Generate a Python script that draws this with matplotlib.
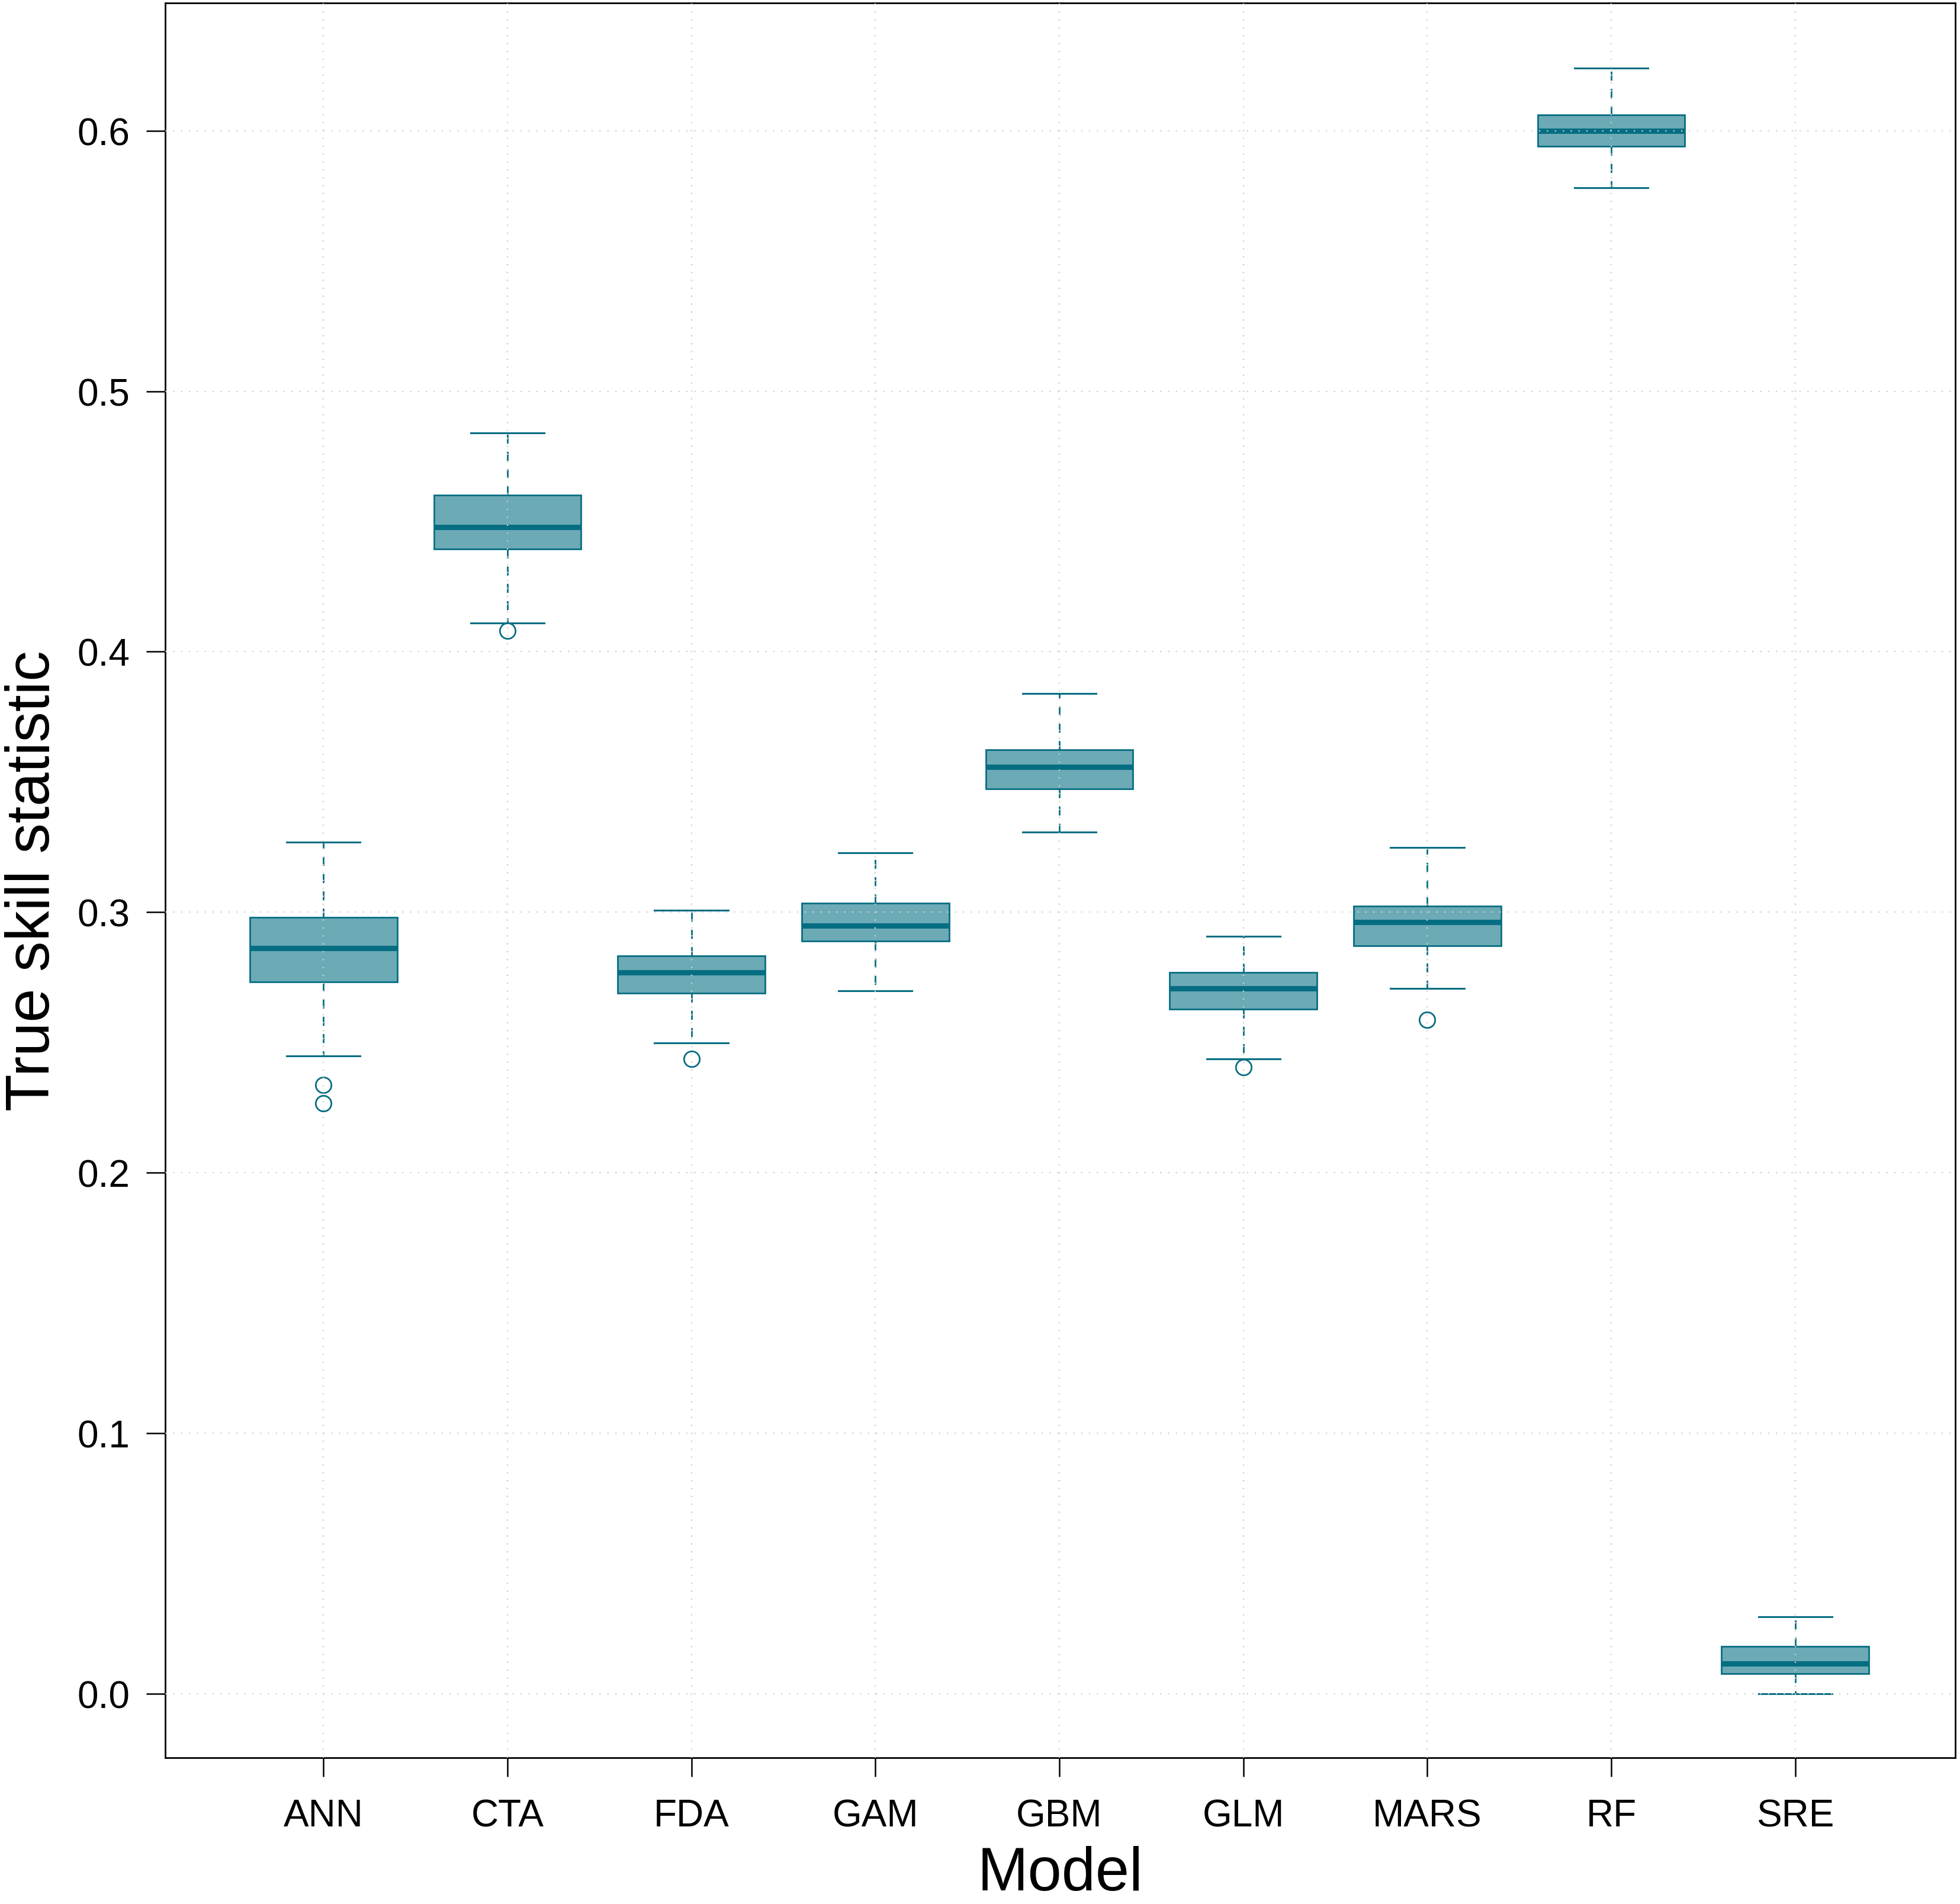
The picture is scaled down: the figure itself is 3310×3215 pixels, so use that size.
import matplotlib
matplotlib.use("Agg")
import matplotlib.pyplot as plt

plt.rcParams['font.family'] = ['Liberation Sans', 'DejaVu Sans']

models = ["ANN", "CTA", "FDA", "GAM", "GBM", "GLM", "MARS", "RF", "SRE"]
whisker_low = [0.2447, 0.4109, 0.2498, 0.2698, 0.3308, 0.2437, 0.2708, 0.5781, 0.0]
q1 = [0.2732, 0.4393, 0.2688, 0.2888, 0.3473, 0.2627, 0.2872, 0.5939, 0.0076]
median = [0.2862, 0.4479, 0.2769, 0.2949, 0.3558, 0.2707, 0.2962, 0.6000, 0.0115]
q3 = [0.2979, 0.4600, 0.2833, 0.3034, 0.3624, 0.2769, 0.3023, 0.6060, 0.0182]
whisker_high = [0.3268, 0.4839, 0.3008, 0.3228, 0.3839, 0.2908, 0.3248, 0.6241, 0.0296]
outliers = [[0.2337, 0.2266], [0.4080], [0.2437], [], [], [0.2406], [0.2587], [], []]
yticks = [0.0, 0.1, 0.2, 0.3, 0.4, 0.5, 0.6]

fill_col = "#6caab6"
edge_col = "#066e82"

stats = []
for i, m in enumerate(models):
    stats.append(dict(label=m, whislo=whisker_low[i], q1=q1[i], med=median[i],
                      q3=q3[i], whishi=whisker_high[i], fliers=outliers[i]))

fig = plt.figure(figsize=(33.1, 32.16), dpi=100)
ax = fig.add_axes([0.0843, 0.0768, 0.9133, 0.9213])

positions = list(range(1, len(models) + 1))
ax.bxp(stats, positions=positions, widths=0.8, patch_artist=True,
       boxprops=dict(facecolor=fill_col, edgecolor=edge_col, linewidth=2.0),
       medianprops=dict(color=edge_col, linewidth=6.5, solid_capstyle="butt"),
       whiskerprops=dict(color=edge_col, linewidth=2.0, linestyle=(0, (5.5, 5))),
       capprops=dict(color=edge_col, linewidth=2.2),
       capwidths=0.4,
       flierprops=dict(marker="o", markersize=19, markerfacecolor="none",
                       markeredgecolor=edge_col, markeredgewidth=2.0))

ax.set_xlim(0.14, 9.87)
ax.set_ylim(-0.0246, 0.649)
ax.set_yticks(yticks)
ax.set_yticklabels([f"{v:.1f}" for v in yticks])
ax.set_xticks(positions)
ax.set_xticklabels(models)

ax.set_axisbelow(False)
ax.grid(True, color="#cfcfcf", linestyle=(0, (1, 5)), linewidth=1.6)

for s in ax.spines.values():
    s.set_linewidth(2.0)
ax.tick_params(axis="both", direction="out", length=23, width=1.8,
               labelsize=46, pad=20)
ax.tick_params(axis="x", pad=26)

ax.set_xlabel("Model", fontsize=74, labelpad=14)
ax.set_ylabel("True skill statistic", fontsize=74, labelpad=18)

fig.savefig("out.png", dpi=100)
